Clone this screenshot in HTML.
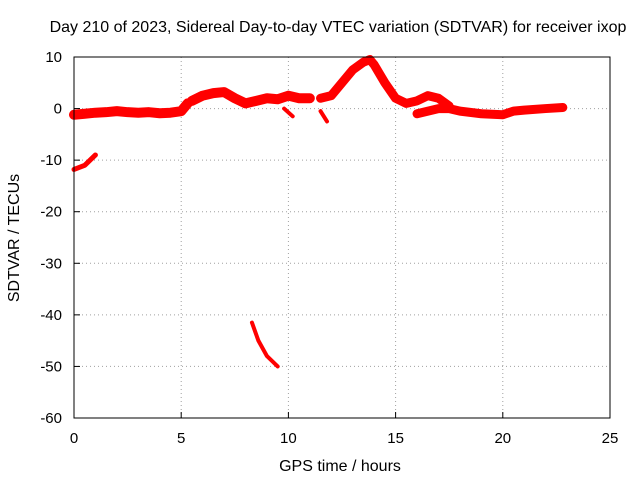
<!DOCTYPE html>
<html><head><meta charset="utf-8"><style>
body{margin:0;background:#fff;}
svg{display:block;font-family:"Liberation Sans",sans-serif;font-size:15px;}
</style></head><body>
<svg id="chart" width="640" height="480" viewBox="0 0 640 480">
<text x="338" y="32" text-anchor="middle" style="font-size:16px">Day 210 of 2023, Sidereal Day-to-day VTEC variation (SDTVAR) for receiver ixop</text>
<g id="grid"></g>
<g id="series"></g>
<rect x="74" y="57" width="536" height="361" fill="none" stroke="#000"/>
<g id="axes"></g>
<text x="340" y="471" text-anchor="middle" style="font-size:16px">GPS time / hours</text>
<text transform="translate(19,238) rotate(-90)" text-anchor="middle" style="font-size:16px">SDTVAR / TECUs</text>
</svg>
<script>
const xTicks=[0,5,10,15,20,25];
const yTicks=[10,0,-10,-20,-30,-40,-50,-60];
const segA=[[0,-1.2],[0.5,-1],[1,-0.8],[1.5,-0.7],[2,-0.5],[2.5,-0.7],[3,-0.8],[3.5,-0.7],[4,-0.9],[4.5,-0.8],[5,-0.5],[5.3,1]];
const segB=[[5.5,1.5],[6,2.5],[6.5,3],[7,3.2],[7.5,2],[8,1],[8.5,1.5],[9,2],[9.5,1.8],[10,2.5],[10.5,2],[11,2]];
const segDip1=[[9.8,0],[10.2,-1.5]];
const segDip2=[[11.5,-0.5],[11.8,-2.5]];
const segC=[[11.5,2],[12,2.5],[12.5,5],[13,7.5],[13.5,9],[13.8,9.5],[14,8.5],[14.5,5],[15,2],[15.5,1],[16,1.5],[16.5,2.5],[17,2],[17.5,0.5]];
const segD=[[16,-1],[17,0],[17.5,0],[18,-0.5],[19,-1],[20,-1.2],[20.5,-0.5],[21,-0.3],[22,0],[22.8,0.2]];
const segE=[[0,-11.8],[0.5,-11],[1,-9]];
const segF=[[8.3,-41.5],[8.6,-45],[9,-48],[9.5,-50]];
const allSegs=[segA,segB,segDip1,segDip2,segC,segD,segE,segF];
const widths=[10,10,4,4,9,9,5,4];
const X=v=>74+v*536/25, Y=v=>57+(10-v)*361/70;
const ns='http://www.w3.org/2000/svg';
const g=document.getElementById('grid'),ax=document.getElementById('axes'),s=document.getElementById('series');
function mk(tag,attrs,parent){const e=document.createElementNS(ns,tag);for(const k in attrs)e.setAttribute(k,attrs[k]);parent.appendChild(e);return e;}
xTicks.forEach(t=>{
 if(t>0&&t<25){const l=mk('line',{x1:X(t),x2:X(t),y1:57,y2:418,stroke:'#a0a0a0','stroke-dasharray':'1,3'},g);
 }
 const tk=mk('line',{x1:X(t),x2:X(t),y1:418,y2:412,stroke:'#000'},ax);
 
 const tx=mk('text',{x:X(t),y:443,'text-anchor':'middle'},ax);tx.textContent=t;
 
});
yTicks.forEach(t=>{
 if(t<10&&t>-60){const l=mk('line',{x1:74,x2:610,y1:Y(t),y2:Y(t),stroke:'#a0a0a0','stroke-dasharray':'1,3'},g);
 }
 const tk=mk('line',{x1:74,x2:80,y1:Y(t),y2:Y(t),stroke:'#000'},ax);
 
 const tx=mk('text',{x:62,y:Y(t)+5,'text-anchor':'end'},ax);tx.textContent=t;
 
});
allSegs.forEach((seg,i)=>{
 const p=mk('polyline',{points:seg.map(d=>X(d[0])+','+Y(d[1])).join(' '),fill:'none',stroke:'#f00','stroke-width':widths[i],'stroke-linejoin':'round','stroke-linecap':'round'},s);
 
 
});
</script>
</body></html>
